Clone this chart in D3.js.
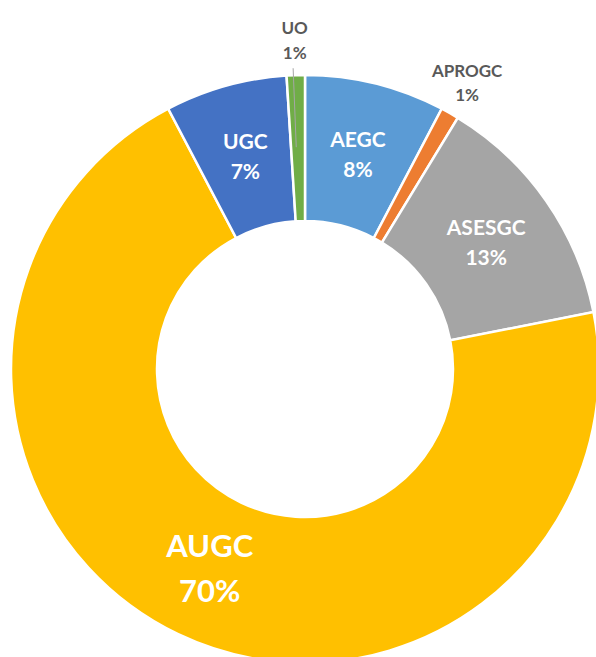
<!DOCTYPE html>
<html>
<head>
<meta charset="utf-8">
<script src="https://cdn.jsdelivr.net/npm/d3@7"></script>
<style>
	body { margin: 0; background: #fff; }
	svg text { font-family: Lato, 'Open Sans', sans-serif; font-weight: bold; }
</style>
</head>
<body>
<div id="donutChart"></div>
<script>
// categories and shares (clockwise from 12 o'clock)
var categories = ['AEGC', 'APROGC', 'ASESGC', 'AUGC', 'UGC', 'UO'];
var values = [7.7, 1.0, 13.2, 70.4, 6.7, 1.0];
var colors = ['#5B9BD5', '#ED7D31', '#A5A5A5', '#FFC000', '#4472C4', '#70AD47'];
var outsideLabels = ['APROGC', 'UO'];
var bigLabels = ['AUGC'];

function drawDonut() {
	var width = 596,
		height = 657;
	var cx = 305, cy = 369;
	var outerR = 294, innerR = 148;

	var data = categories.map(function(d, i) {
		return {key: d, value: values[i], color: colors[i]};
	});
	var total = d3.sum(values);

	var svg = d3.select('#donutChart').append('svg')
				.attr('width', width)
				.attr('height', height)
				.append('g')
				.attr('transform', 'translate(' + cx + ',' + cy + ')');

	var pie = d3.pie()
		.sort(null)
		.value(function(d) { return d.value; });

	var arc = d3.arc()
		.innerRadius(innerR)
		.outerRadius(outerR);

	var labelArc = d3.arc()
		.innerRadius(329)
		.outerRadius(329);

	var arcs = pie(data);

	svg.selectAll('.slice')
		.data(arcs)
		.enter().append('path')
		.attr('class', 'slice')
		.attr('d', arc)
		.attr('fill', function(d) { return d.data.color; })
		.attr('stroke', '#fff')
		.attr('stroke-width', 2.5);

	// leader line for UO
	arcs.filter(function(d) { return d.data.key == 'UO'; }).forEach(function(d) {
		var a = d.startAngle + (d.endAngle - d.startAngle) / 2 - 0.008;
		svg.append('line')
			.attr('x1', Math.sin(a) * 301).attr('y1', -Math.cos(a) * 301)
			.attr('x2', Math.sin(a) * 222).attr('y2', -Math.cos(a) * 222)
			.attr('stroke', '#A6A6A6')
			.attr('stroke-width', 1);
	});

	var labels = svg.selectAll('.label')
		.data(arcs)
		.enter().append('text')
		.attr('class', 'label')
		.attr('text-anchor', 'middle')
		.attr('transform', function(d) {
			var c = outsideLabels.includes(d.data.key) ? labelArc.centroid(d) : arc.centroid(d);
			return 'translate(' + c[0] + ',' + c[1] + ')';
		})
		.attr('fill', function(d) { return outsideLabels.includes(d.data.key) ? '#595959' : '#fff'; })
		.style('font-size', function(d) {
			if (bigLabels.includes(d.data.key)) return '31px';
			return outsideLabels.includes(d.data.key) ? '17px' : '21px';
		});

	labels.append('tspan')
		.attr('x', 0)
		.attr('dy', '-0.36em')
		.text(function(d) { return d.data.key; });

	labels.append('tspan')
		.attr('x', 0)
		.attr('dy', '1.45em')
		.text(function(d) { return Math.round(d.value / total * 100) + '%'; });
}

drawDonut();
</script>
</body>
</html>
